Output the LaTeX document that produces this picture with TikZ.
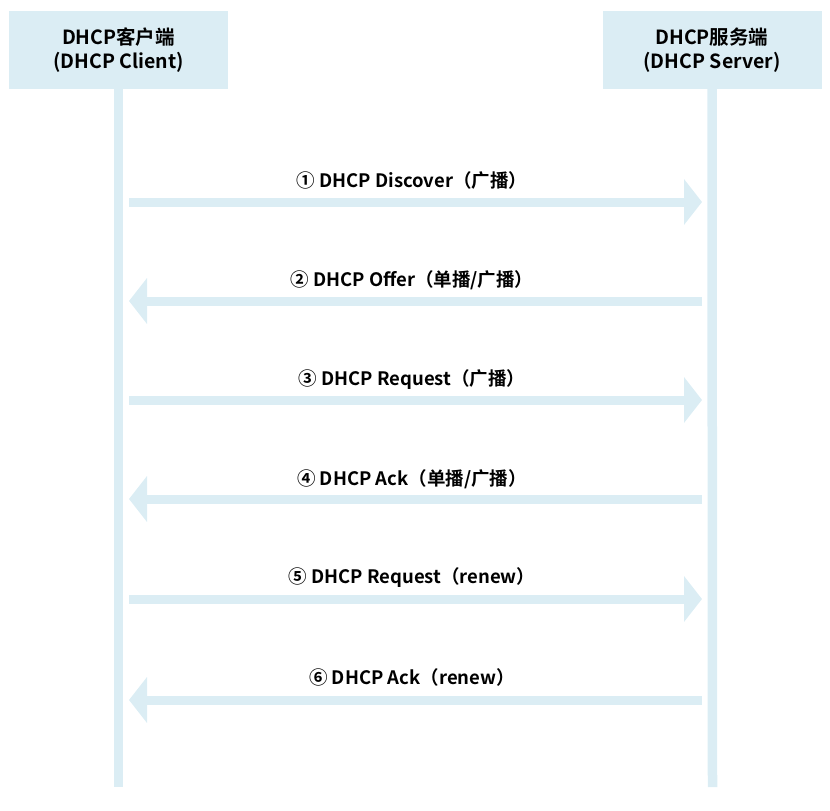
\documentclass[tikz,border=0pt]{standalone}
\usepackage{fontspec}
\setmainfont{Noto Sans CJK SC}[BoldFont=Noto Sans CJK SC Bold]
\usetikzlibrary{arrows.meta}
\definecolor{lb}{HTML}{DBEDF4}
\tikzset{
  hdr/.style={fill=lb, minimum width=219pt, minimum height=78pt, align=center, inner sep=0pt,
    font=\bfseries\fontsize{19.5}{24}\selectfont},
  life/.style={draw=lb, line width=9.5pt},
  msg/.style={draw=lb, line width=9pt, -{Triangle[length=18pt,width=45pt,fill=lb]}},
  lbl/.style={font=\bfseries\fontsize{18.5}{20}\selectfont, inner sep=0pt}
}
\begin{document}
\begin{tikzpicture}[x=1pt,y=-1pt]
\useasboundingbox (0,0) rectangle (830,811);
\node[hdr] (client) at (118.5,50) {DHCP客户端\\(DHCP Client)};
\node[hdr] (server) at (712,50) {DHCP服务端\\(DHCP Server)};
\coordinate (cb) at (118.5,787);
\coordinate (sb) at (712.5,787);
\draw[life] (client.south) -- (cb);
\draw[life] (server.south) -- (sb);
% message ends
\foreach \i/\y in {1/202,2/301,3/400,4/499,5/599,6/700}{
  \coordinate (l\i) at (129,\y);
  \coordinate (r\i) at (702,\y);
}
\draw[msg] (l1) -- (r1);
\draw[msg] (r2) -- (l2);
\draw[msg] (l3) -- (r3);
\draw[msg] (r4) -- (l4);
\draw[msg] (l5) -- (r5);
\draw[msg] (r6) -- (l6);
\node[lbl] (t1) at (412,180) {① DHCP Discover（广播）};
\node[lbl] (t2) at (412,280) {② DHCP Offer（单播/广播）};
\node[lbl] (t3) at (412,380) {③ DHCP Request（广播）};
\node[lbl] (t4) at (412,479) {④ DHCP Ack（单播/广播）};
\node[lbl] (t5) at (412,578) {⑤ DHCP Request（renew）};
\node[lbl] (t6) at (412,677) {⑥ DHCP Ack（renew）};
\end{tikzpicture}
\end{document}
